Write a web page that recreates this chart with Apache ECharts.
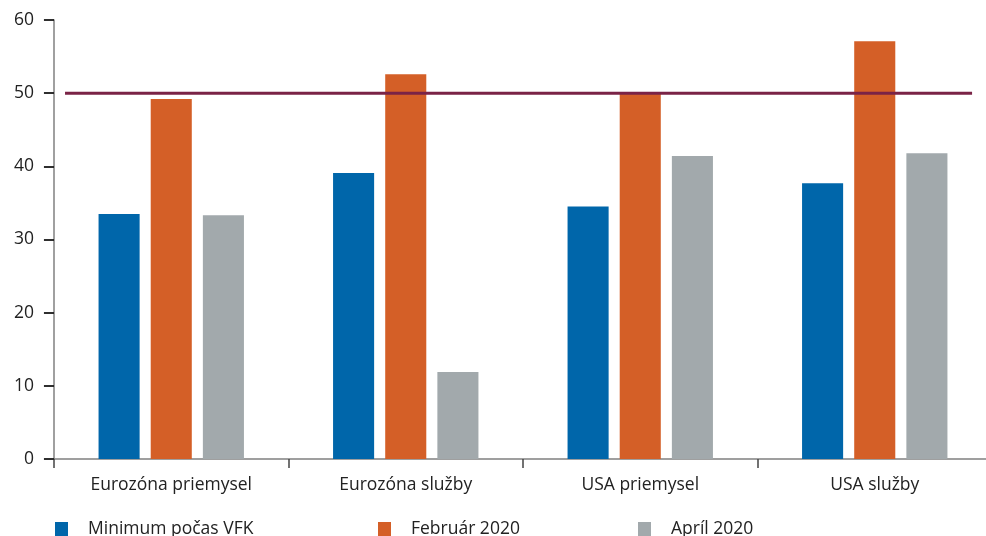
<!DOCTYPE html>
<html>
<head>
<meta charset="utf-8">
<script src="https://cdn.jsdelivr.net/npm/echarts@6/dist/echarts.min.js"></script>
<style>
  html, body { margin: 0; padding: 0; background: #fff; overflow: hidden; }
  #wrap { width: 986px; height: 536px; overflow: hidden; }
  /* the plot runs slightly past the right edge of the visible page */
  #chart { width: 992px; height: 536px; }
</style>
</head>
<body>
<div id="wrap"><div id="chart"></div></div>
<script>
// PMI by sector and region
const categories = ['Eurozóna priemysel', 'Eurozóna služby', 'USA priemysel', 'USA služby'];
const seriesNames = ['Minimum počas VFK', 'Február 2020', 'Apríl 2020'];
const minimumVFK = [33.5, 39.1, 34.5, 37.7];
const february2020 = [49.2, 52.6, 50.0, 57.1];
const april2020 = [33.3, 11.9, 41.4, 41.8];
const yTicks = [0, 10, 20, 30, 40, 50, 60];
const threshold = 50;
// extent of the 50-point threshold line, in category units
const thresholdSpan = [0.047, 3.915];

const colors = ['#0066aa', '#d45f27', '#a2a9ac'];
const font = '"Open Sans", "Noto Sans", sans-serif';

const chart = echarts.init(document.getElementById('chart'), null, { renderer: 'canvas' });

const legendBase = {
  top: 515,
  itemWidth: 13,
  itemHeight: 14,
  icon: 'rect',
  selectedMode: false,
  textStyle: { fontFamily: font, fontSize: 17.5, color: '#222', padding: [0, 0, 0, 15] }
};

chart.setOption({
  animation: false,
  color: colors,
  grid: { left: 54, top: 20, right: 0, bottom: 77 },
  legend: [
    Object.assign({}, legendBase, { left: 50, data: [seriesNames[0]] }),
    Object.assign({}, legendBase, { left: 373, data: [seriesNames[1]] }),
    Object.assign({}, legendBase, { left: 633, data: [seriesNames[2]] })
  ],
  xAxis: [
    {
      type: 'category',
      data: categories,
      axisLine: { onZero: false, lineStyle: { color: '#808080', width: 1.5 } },
      axisTick: { show: true, length: 9, lineStyle: { color: '#444', width: 1.5 } },
      axisLabel: { fontFamily: font, fontSize: 17.5, color: '#222', margin: 17 },
      splitLine: { show: false }
    },
    {
      type: 'value',
      min: 0,
      max: 4,
      show: false
    }
  ],
  yAxis: {
    type: 'value',
    position: 'left',
    min: yTicks[0],
    max: yTicks[yTicks.length - 1],
    interval: 10,
    axisLine: { show: true, onZero: false, lineStyle: { color: '#808080', width: 1.5 } },
    axisTick: { show: true, inside: false, length: 10, lineStyle: { color: '#222', width: 1.5 } },
    axisLabel: { fontFamily: font, fontSize: 17.5, color: '#222', margin: 20 },
    splitLine: { show: false }
  },
  series: [
    { name: seriesNames[0], type: 'bar', data: minimumVFK, barGap: '27%', barCategoryGap: '38%' },
    { name: seriesNames[1], type: 'bar', data: february2020, barGap: '27%', barCategoryGap: '38%' },
    { name: seriesNames[2], type: 'bar', data: april2020, barGap: '27%', barCategoryGap: '38%' },
    {
      type: 'line',
      xAxisIndex: 1,
      data: [[thresholdSpan[0], threshold], [thresholdSpan[1], threshold]],
      symbol: 'none',
      lineStyle: { color: '#7a2346', width: 3 },
      z: 5,
      silent: true
    },
    {
      // short outward tick marks on the value axis, drawn as line segments
      type: 'lines',
      coordinateSystem: 'cartesian2d',
      xAxisIndex: 1,
      data: yTicks.map(v => ({ coords: [[-0.043, v], [0, v]] })),
      lineStyle: { color: '#222', width: 1.5, opacity: 1 },
      clip: false,
      silent: true,
      z: 6
    }
  ]
});
</script>
</body>
</html>
